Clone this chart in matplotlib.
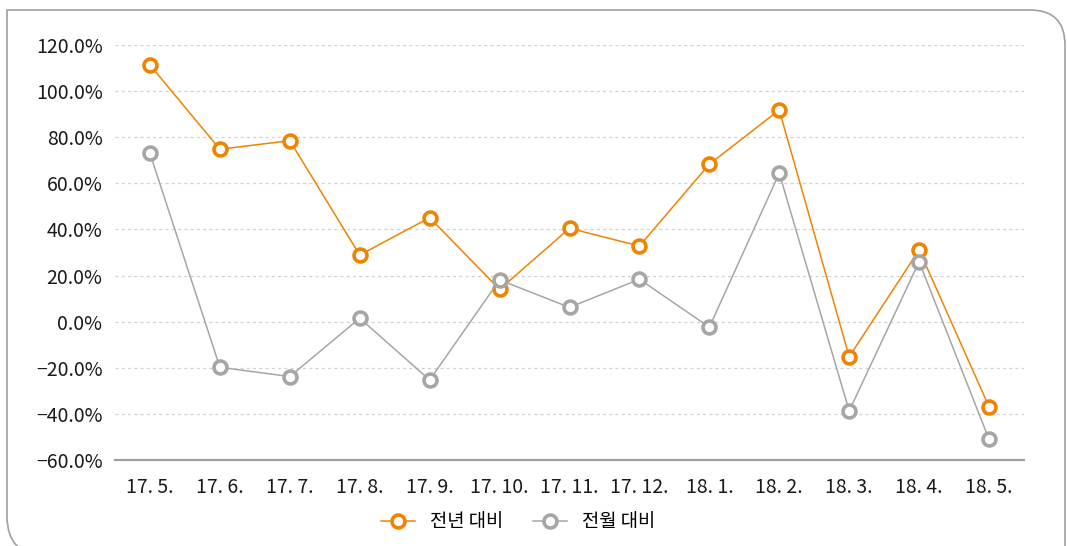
import matplotlib
matplotlib.use('Agg')
import matplotlib.pyplot as plt
from matplotlib.path import Path
from matplotlib.patches import PathPatch
from matplotlib.ticker import FuncFormatter, MultipleLocator

months = ['17. 5.', '17. 6.', '17. 7.', '17. 8.', '17. 9.', '17. 10.', '17. 11.',
          '17. 12.', '18. 1.', '18. 2.', '18. 3.', '18. 4.', '18. 5.']
yoy = [111.3, 74.8, 78.5, 28.9, 45.1, 14.0, 40.5, 32.8, 68.3, 91.8, -15.2, 31.1, -36.9]
mom = [73.0, -19.8, -23.8, 1.5, -25.3, 18.1, 6.2, 18.4, -2.4, 64.4, -38.7, 26.0, -51.0]
series_names = ['전년 대비', '전월 대비']

ORANGE = '#F08300'
GRAY = '#A6A6A6'
FONT = ['Noto Sans CJK KR', 'DejaVu Sans']

W, H = 1067, 546
fig = plt.figure(figsize=(W / 100, H / 100), dpi=100)
ax = fig.add_axes([115 / W, 1 - 460 / H, (1024 - 115) / W, (460 - 45) / H])

x = range(len(months))
ax.plot(x, yoy, color=ORANGE, lw=1.1, marker='o', ms=9.3, mew=2.6,
        mfc='white', mec=ORANGE, label=series_names[0], zorder=3)
ax.plot(x, mom, color=GRAY, lw=1.1, marker='o', ms=9.3, mew=2.6,
        mfc='white', mec=GRAY, label=series_names[1], zorder=4)

ax.set_xlim(-0.5, len(months) - 0.5)
ax.set_ylim(-60, 120)
ax.yaxis.set_major_locator(MultipleLocator(20))
ax.yaxis.set_major_formatter(FuncFormatter(lambda v, p: f'{v:.1f}%'.replace('-', '\u2212')))
ax.set_xticks(list(x))
ax.set_xticklabels(months)

ax.grid(axis='y', color='#D2D2D2', linestyle=(0, (2.5, 2.5)), lw=0.9)
ax.set_axisbelow(True)
for s in ['left', 'right', 'top']:
    ax.spines[s].set_visible(False)
ax.spines['bottom'].set_color('#A0A0A0')
ax.spines['bottom'].set_linewidth(1.6)
ax.tick_params(axis='both', length=0, colors='#1a1a1a')
ax.tick_params(axis='y', pad=9)
ax.tick_params(axis='x', pad=12)
for lbl in ax.get_xticklabels() + ax.get_yticklabels():
    lbl.set_fontfamily(FONT)
    lbl.set_fontsize(14)

leg = fig.legend(loc='center', bbox_to_anchor=(518 / W, 1 - 522 / H), ncol=2,
                 frameon=False, handlelength=1.8, columnspacing=1.6, handletextpad=0.8,
                 prop={'family': FONT, 'size': 13.5})

# rounded frame round the chart
def px(a, b):
    return (a / W, 1 - b / H)

verts = [px(1065, 570), px(1065, 45), px(1065, 10), px(1030, 10), px(7, 10),
         px(7, 516), px(7, 556), px(47, 556), px(1065, 556)]
codes = [Path.MOVETO, Path.LINETO, Path.CURVE3, Path.CURVE3, Path.LINETO,
         Path.LINETO, Path.CURVE3, Path.CURVE3, Path.LINETO]
frame = PathPatch(Path(verts, codes), fill=False, edgecolor='#A0A0A0', lw=1.2,
                  transform=fig.transFigure, clip_on=False)
fig.add_artist(frame)

fig.savefig('out.png', dpi=100)
